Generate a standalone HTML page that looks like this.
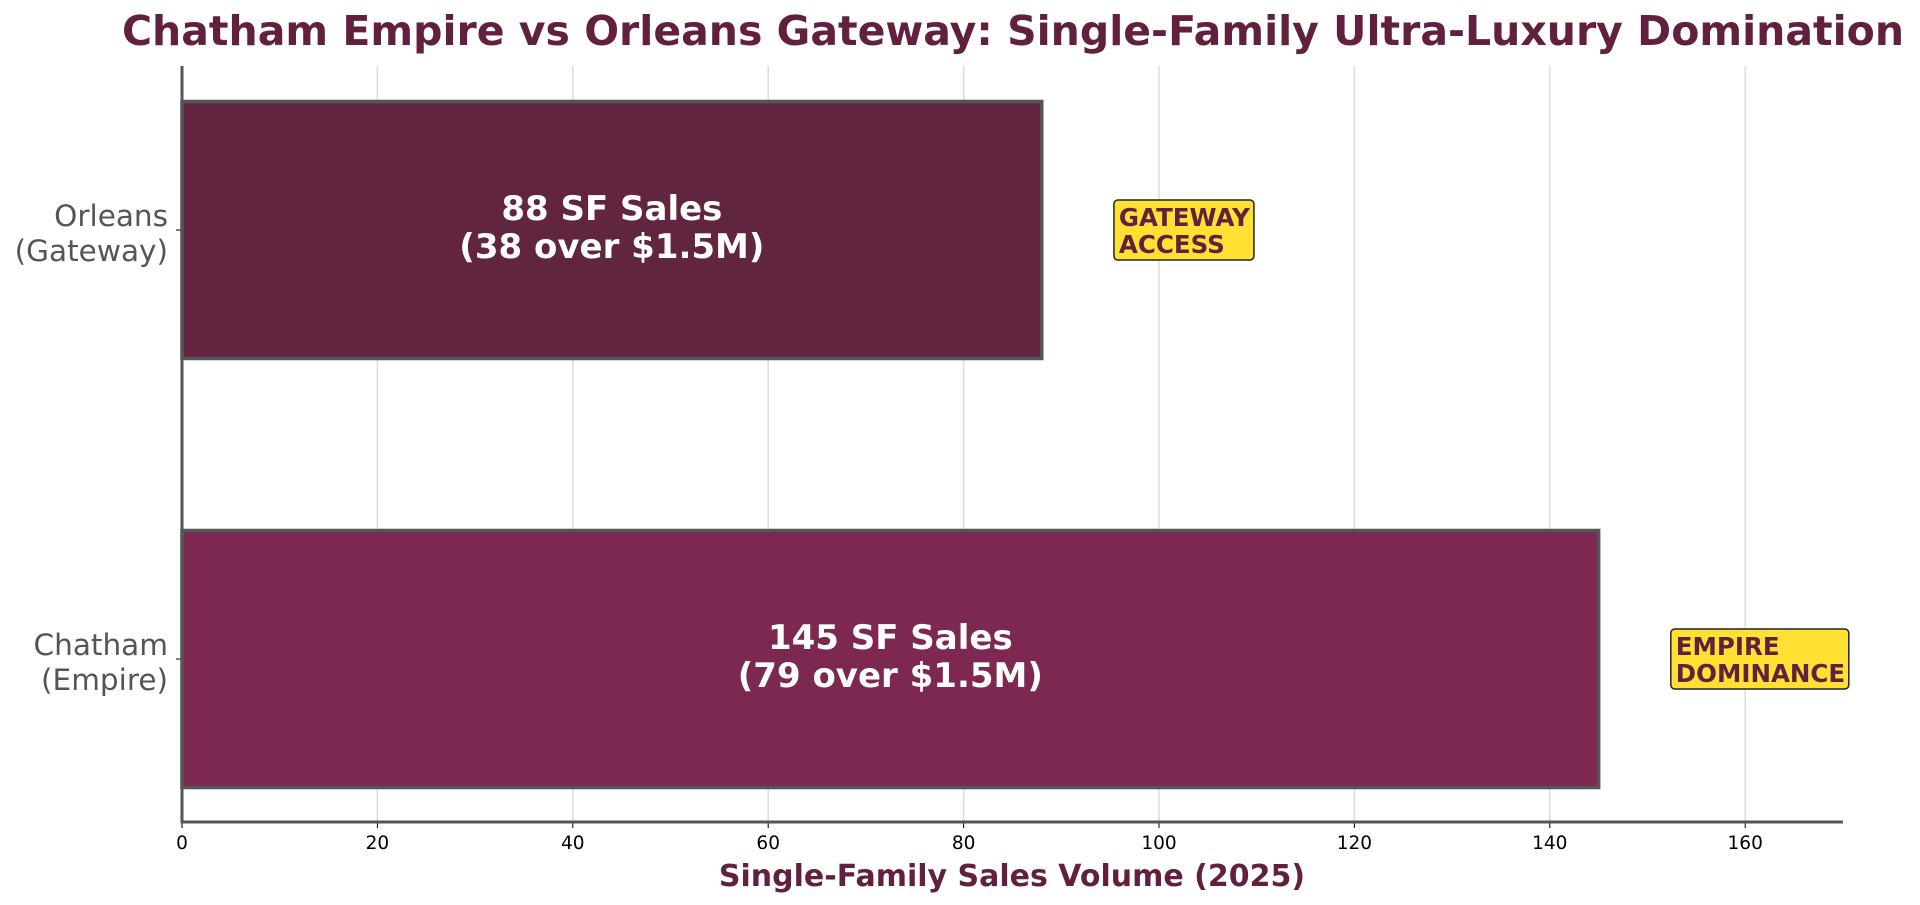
<!DOCTYPE html>
<html><head><meta charset="utf-8"><style>
html,body{margin:0;padding:0;background:#fff;}
svg{display:block;font-family:"DejaVu Sans","Liberation Sans",sans-serif;}
</style></head><body>
<svg id="chart" width="1920" height="905" viewBox="0 0 1920 905" xmlns="http://www.w3.org/2000/svg">
<text x="1013" y="45" text-anchor="middle" font-size="41" font-weight="bold" fill="#62203f">Chatham Empire vs Orleans Gateway: Single-Family Ultra-Luxury Domination</text>
<g id="grid"></g>
<g id="bars"></g>
<g id="ticks"></g>
<line x1="182" y1="66" x2="182" y2="823" stroke="#555" stroke-width="3"/>
<line x1="180.5" y1="822" x2="1843" y2="822" stroke="#555" stroke-width="3"/>
<text x="1012" y="886" text-anchor="middle" font-size="30" font-weight="bold" fill="#62203f">Single-Family Sales Volume (2025)</text>
</svg>
<script>
const categories = ["Chatham\n(Empire)", "Orleans\n(Gateway)"];
const salesValues = [145, 88];
const overValues = [79, 38];
const badgeLabels = ["EMPIRE\nDOMINANCE", "GATEWAY\nACCESS"];
const badgeXValues = [153, 96];
const tickValues = [0, 20, 40, 60, 80, 100, 120, 140, 160];
const barColors = ["#7d2850", "#62253f"];

const NS = "http://www.w3.org/2000/svg";
const x0 = 182, pxPerUnit = 9.77;
function xScale(v){ return x0 + v * pxPerUnit; }
function yScale(i){ return 659 - i * 429; } // category centers
const barH = 257;

function mk(tag, attrs, parent){
  const e = document.createElementNS(NS, tag);
  for (const k in attrs) e.setAttribute(k, attrs[k]);
  parent.appendChild(e);
  return e;
}
const grid = document.getElementById('grid');
const bars = document.getElementById('bars');
const ticks = document.getElementById('ticks');

tickValues.forEach(t => {
  const x = xScale(t);
  if (t > 0) {
    const g = mk('line', {x1:x, y1:66, x2:x, y2:822, stroke:'#dcdcdc', 'stroke-width':1.5}, grid);
    
    
  }
  const tk = mk('line', {x1:x, y1:822, x2:x, y2:828, stroke:'#000', 'stroke-width':1}, ticks);
  
  
  const lb = mk('text', {x:x, y:849, 'text-anchor':'middle', 'font-size':18.5, fill:'#000'}, ticks);
  lb.textContent = t;
  
  
});

categories.forEach((c, i) => {
  const cy = yScale(i);
  const r = mk('rect', {x:x0, y:cy - barH/2, width:xScale(salesValues[i]) - x0, height:barH, fill:barColors[i], stroke:'#555', 'stroke-width':3.5}, bars);
  
  
  const mid = (x0 + xScale(salesValues[i])) / 2;
  const t = mk('text', {x:mid, 'text-anchor':'middle', 'font-size':34, 'font-weight':'bold', fill:'#fff'}, bars);
  
  
  const s1 = mk('tspan', {x:mid, y:cy - 10}, t); s1.textContent = salesValues[i] + ' SF Sales';
  const s2 = mk('tspan', {x:mid, y:cy + 28}, t); s2.textContent = '(' + overValues[i] + ' over $1.5M)';

  // category label
  const parts = c.split('\n');
  const yl = mk('text', {'text-anchor':'end', 'font-size':29.5, fill:'#555'}, ticks);
  
  
  const a = mk('tspan', {x:168, y:cy - 4}, yl); a.textContent = parts[0];
  const b = mk('tspan', {x:168, y:cy + 31}, yl); b.textContent = parts[1];
  const ytk = mk('line', {x1:176, y1:cy, x2:182, y2:cy, stroke:'#000', 'stroke-width':1}, ticks);
  
  

  // badge
  const bl = badgeLabels[i].split('\n');
  const bx = xScale(badgeXValues[i]) - 6;
  const bw = i === 0 ? 178 : 140;
  const bg = mk('rect', {x:bx, y:cy - 30, width:bw, height:60, rx:4, fill:'#ffe033', stroke:'#222', 'stroke-width':1.5}, bars);
  
  
  const bt = mk('text', {'font-size':24.5, 'font-weight':'bold', fill:'#62203f'}, bars);
  
  
  const b1 = mk('tspan', {x:bx + 5, y:cy - 4}, bt); b1.textContent = bl[0];
  const b2 = mk('tspan', {x:bx + 5, y:cy + 23}, bt); b2.textContent = bl[1];
});
</script>
</body></html>
